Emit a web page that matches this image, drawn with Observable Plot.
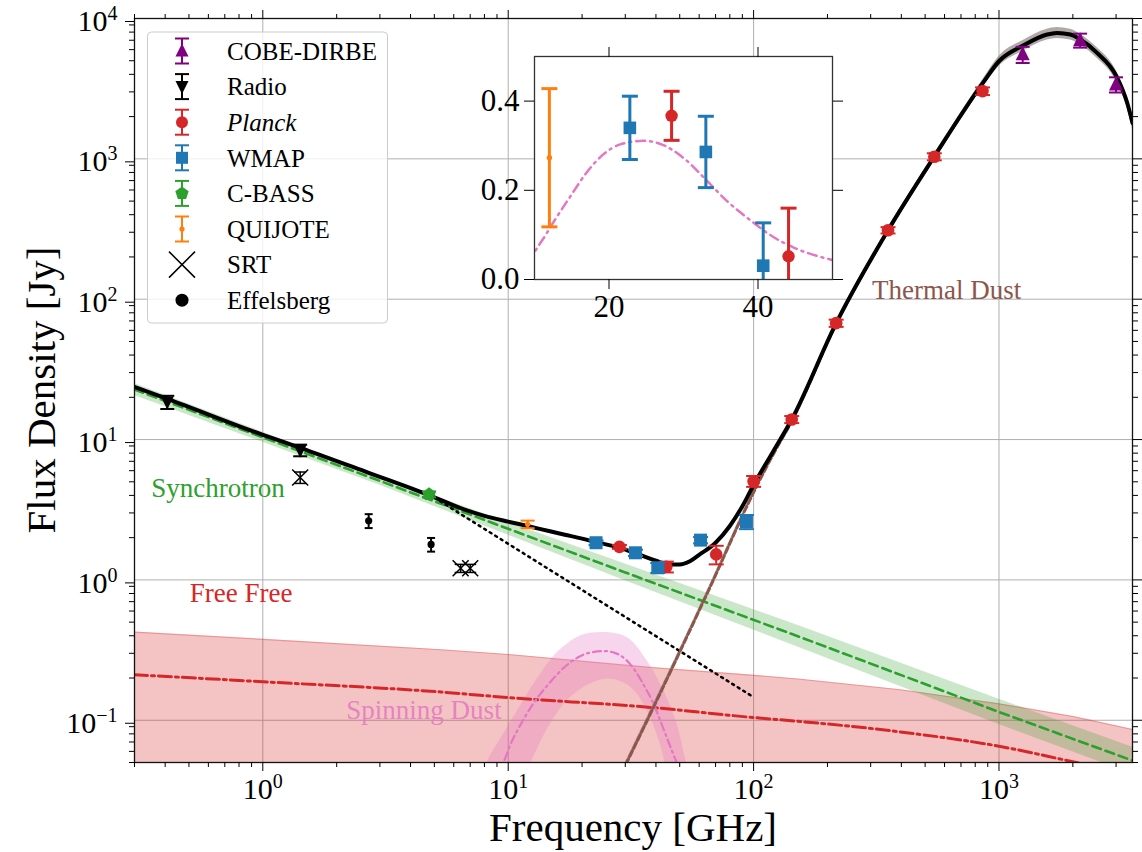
<!DOCTYPE html>
<html><head><meta charset="utf-8">
<script src="https://cdn.jsdelivr.net/npm/d3@7"></script>
<script src="https://cdn.jsdelivr.net/npm/@observablehq/plot@0.6"></script>
<style>
html,body{margin:0;padding:0;background:#fff;overflow:hidden}
#wrap{position:relative;width:1142px;height:852px;font-family:"Liberation Serif","Times New Roman",serif}
#wrap svg{position:absolute;font-family:"Liberation Serif","Times New Roman",serif !important}
#wrap svg text{font-family:"Liberation Serif","Times New Roman",serif !important}
</style></head><body><div id="wrap"></div>
<script>
// ---------------- data ----------------
// measured flux densities [GHz], [Jy]
const cobeFreq = [1249, 2141, 2998];
const cobeFlux = [5550, 7000, 3390];
const cobeErr = [730, 800, 420];
const radioFreq = [0.408, 1.42];
const radioFlux = [18.5, 8.4];
const radioErr = [2.0, 0.8];
const planckFreq = [28.4, 44.1, 70.4, 100, 143, 217, 353, 545, 857];
const planckFlux = [1.72, 1.24, 1.52, 5.05, 13.9, 67.5, 310, 1036, 3038];
const planckErr = [0.055, 0.11, 0.23, 0.45, 0.8, 4, 16, 60, 190];
const wmapFreq = [22.8, 33.0, 40.7, 60.8, 93.5];
const wmapFlux = [1.84, 1.56, 1.22, 1.92, 2.6];
const wmapErr = [0.07, 0.08, 0.1, 0.1, 0.3];
const cbassFreq = [4.76];
const cbassFlux = [4.07];
const cbassErr = [0.2];
const quijoteFreq = [12.0];
const quijoteFlux = [2.49];
const quijoteErr = [0.155];
const srtFreq = [1.42, 6.4, 7.0];
const srtFlux = [5.37, 1.21, 1.21];
const srtErr = [0.5, 0.08, 0.08];
const effFreq = [2.7, 4.85];
const effFlux = [2.64, 1.79];
const effErr = [0.3, 0.2];

// model curves
const totalFreq = [0.3, 0.408, 1, 1.43, 2.7, 4.76, 6.6, 8, 10, 12, 14.8, 17, 20, 23, 28.4, 33, 40, 45, 50, 55, 60, 70, 80, 90, 100, 120, 143, 217, 353, 545, 857, 1004, 1254, 1571, 1725, 1954, 2146, 2510, 3010, 3330, 3500];
const totalFlux = [23.7, 19.5, 10.8, 8.7, 5.8, 4.02, 3.18, 2.86, 2.6, 2.42, 2.22, 2.1, 1.97, 1.85, 1.70, 1.55, 1.37, 1.29, 1.29, 1.36, 1.51, 1.84, 2.42, 3.35, 4.75, 8.2, 13.9, 67.5, 310, 1040, 3450, 5000, 6410, 7690, 7890, 7690, 7080, 5690, 3880, 2510, 1800];

const synchFreq = [0.3, 3, 30, 155, 1000, 3500];
const synchFlux = [22.7, 5.07, 1.13, 0.391, 0.1146, 0.0516];
const synchLo = [20.6, 4.73, 0.985, 0.327, 0.0934, 0.0414];
const synchHi = [25.1, 5.43, 1.30, 0.468, 0.141, 0.0642];

const ffFreq = [0.3, 1, 5.3, 10, 39, 100, 155, 396, 1000, 2018, 3500];
const ffFlux = [0.211, 0.188, 0.159, 0.145, 0.123, 0.1045, 0.098, 0.0826, 0.0653, 0.0505, 0.0413];
const ffHi = [0.425, 0.377, 0.318, 0.294, 0.237, 0.209, 0.196, 0.165, 0.131, 0.106, 0.086];
const ffLo = [0.02, 0.02, 0.02, 0.02, 0.02, 0.02, 0.02, 0.02, 0.02, 0.02, 0.02];

const ameFreq = [9.0, 9.7, 10.1, 11.5, 12.6, 14.8, 17.0, 19.2, 21.5, 24.6, 27.2, 30.4, 33.0, 35.7, 38.8, 41.9, 45.0, 47.9, 49.7, 53];
const ameFlux = [0.040, 0.053, 0.064, 0.100, 0.130, 0.186, 0.240, 0.280, 0.303, 0.311, 0.302, 0.267, 0.224, 0.178, 0.135, 0.097, 0.070, 0.053, 0.045, 0.033];
const ameHiFreq = [7.6, 8.3, 9.9, 11.5, 13.5, 15.8, 19.6, 24.1, 30.5, 36.7, 42.9, 48.5, 52.6, 55];
const ameHi = [0.038, 0.0534, 0.0896, 0.139, 0.215, 0.306, 0.402, 0.425, 0.391, 0.267, 0.163, 0.095, 0.0534, 0.04];
const ameLoFreq = [11.6, 12.5, 14.8, 18.5, 25.3, 31.4, 36.7, 41.1, 43, 44];
const ameLo = [0.04, 0.053, 0.095, 0.155, 0.198, 0.173, 0.118, 0.072, 0.053, 0.04];

const dustFreq = [25, 30.5, 65.5, 100, 120, 143, 217, 353, 545, 857, 1004, 1254, 1571, 1725, 1954, 2146, 2510, 3010, 3330, 3500];
const dustFlux = [0.025, 0.0505, 0.84, 4.2, 7.8, 13.5, 66.5, 307, 1035, 3420, 4980, 6390, 7680, 7880, 7680, 7070, 5680, 3870, 2500, 1790];
const dustLo = [0.024, 0.048, 0.80, 4.0, 7.45, 12.9, 63.5, 293, 985, 3200, 4580, 5850, 7020, 7200, 7020, 6470, 5200, 3540, 2290, 1640];
const dustHi = [0.026, 0.053, 0.88, 4.4, 8.15, 14.1, 69.5, 321, 1085, 3650, 5410, 6980, 8400, 8620, 8400, 7730, 6210, 4230, 2730, 1950];

const dotFreq = [4.76, 100];
const dotFlux = [4.07, 0.146];

// inset: AME residuals
const inQuijoteFreq = [12.0], inQuijoteVal = [0.273], inQuijoteErr = [0.155];
const inWmapFreq = [22.8, 33.0, 40.7], inWmapVal = [0.34, 0.286, 0.031], inWmapErr = [0.071, 0.08, 0.096];
const inPlanckFreq = [28.4, 44.1], inPlanckVal = [0.367, 0.052], inPlanckErr = [0.055, 0.108];

// ticks & labels
const xMajor = [1, 10, 100, 1000];
const yMajor = [0.1, 1, 10, 100, 1000, 10000];
const insetXTicks = [20, 40];
const insetYTicks = [0, 0.2, 0.4];
const legendLabels = ["COBE-DIRBE", "Radio", "Planck", "WMAP", "C-BASS", "QUIJOTE", "SRT", "Effelsberg"];
const annText = ["Synchrotron", "Free Free", "Thermal Dust", "Spinning Dust"];
const annFreq = [0.351, 0.504, 304, 2.19];
const annFlux = [4.52, 0.80, 116, 0.118];

// ---------------- styling ----------------
const C = {blue:"#1f77b4", orange:"#ff7f0e", green:"#2ca02c", red:"#d62728", purple:"#800080", brown:"#8c564b", pink:"#e377c2", black:"#000"};
const FONT = '"Liberation Serif","Times New Roman",serif';
const W = 1142, H = 852, mL = 134, mR = 10, mT = 18, mB = 90;

const rr = s => Math.sqrt(s / Math.PI);
const SYM = {
  cap: {draw(c, s){const r = rr(s); c.moveTo(-r, 0); c.lineTo(r, 0);}},
  triUp: {draw(c, s){const r = rr(s); c.moveTo(0, -r*1.15); c.lineTo(r, r*0.85); c.lineTo(-r, r*0.85); c.closePath();}},
  triDown: {draw(c, s){const r = rr(s); c.moveTo(0, r*1.15); c.lineTo(r, -r*0.85); c.lineTo(-r, -r*0.85); c.closePath();}},
  square: {draw(c, s){const r = rr(s); c.rect(-r, -r, 2*r, 2*r);}},
  pent: {draw(c, s){const r = rr(s); for (let k = 0; k < 5; k++){const a = -Math.PI/2 + k*2*Math.PI/5; const px = r*Math.cos(a), py = r*Math.sin(a); if (k) c.lineTo(px, py); else c.moveTo(px, py);} c.closePath();}},
  x: {draw(c, s){const r = rr(s); c.moveTo(-r, -r); c.lineTo(r, r); c.moveTo(-r, r); c.lineTo(r, -r);}},
  circle: {draw(c, s){const r = rr(s); c.moveTo(r, 0); c.arc(0, 0, r, 0, 2*Math.PI);}}
};

const rows = (f, v, e) => f.map((x, i) => ({f: x, v: v[i], e: e ? e[i] : 0}));
const band = (f, lo, hi) => f.map((x, i) => ({f: x, lo: lo[i], hi: hi[i]}));

function errBars(data, color, capR, sw){
  return [
    Plot.ruleX(data, {x: "f", y1: d => d.v - d.e, y2: d => d.v + d.e, stroke: color, strokeWidth: sw, clip: true}),
    Plot.dot(data, {x: "f", y: d => d.v + d.e, symbol: SYM.cap, r: capR, stroke: color, fill: "none", strokeWidth: sw, clip: true}),
    Plot.dot(data, {x: "f", y: d => d.v - d.e, symbol: SYM.cap, r: capR, stroke: color, fill: "none", strokeWidth: sw, clip: true})
  ];
}

function minorTicks(lo, hi){
  const out = [];
  for (let k = -3; k <= 4; k++) for (let m = 2; m <= 9; m++){
    const v = +(m * Math.pow(10, k)).toPrecision(6);
    if (v >= lo && v <= hi) out.push(v);
  }
  return out;
}
const fmtPow = d => {const e = Math.round(Math.log10(d)); return "10^" + (e < 0 ? "\u2212" + (-e) : String(e));};
const blank = () => "";

const ameBandPoly = [
  ...ameHiFreq.map((f, i) => ({f, v: ameHi[i]})),
  ...ameLoFreq.map((f, i) => ({f, v: ameLo[i]})).reverse()
];

const TXT = {fontFamily: FONT};

const main = Plot.plot({
  width: W, height: H, marginLeft: mL, marginRight: mR, marginTop: mT, marginBottom: mB,
  x: {type: "log", domain: [0.3, 3500]},
  y: {type: "log", domain: [0.05, 10000]},
  style: {fontSize: "30px", color: "#000", background: "white", overflow: "visible"},
  marks: [
    Plot.gridX({ticks: xMajor, stroke: "#b0b0b0", strokeOpacity: 1, strokeWidth: 1}),
    Plot.gridY({ticks: yMajor, stroke: "#b0b0b0", strokeOpacity: 1, strokeWidth: 1}),
    // bands
    Plot.areaY(band(ffFreq, ffLo, ffHi), {x: "f", y1: "lo", y2: "hi", fill: C.red, fillOpacity: 0.28, clip: true}),
    Plot.line(rows(ffFreq, ffHi), {x: "f", y: "v", stroke: C.red, strokeOpacity: 0.3, strokeWidth: 1.2, clip: true}),
    Plot.areaY(band(synchFreq, synchLo, synchHi), {x: "f", y1: "lo", y2: "hi", fill: C.green, fillOpacity: 0.25, clip: true}),
    Plot.line(ameBandPoly, {x: "f", y: "v", fill: C.pink, fillOpacity: 0.3, stroke: "none", curve: "catmull-rom", clip: true}),
    Plot.areaY(band(dustFreq, dustLo, dustHi), {x: "f", y1: "lo", y2: "hi", fill: "#6f6260", fillOpacity: 0.55, curve: "monotone-x", clip: true}),
    // annotations
    Plot.text([0], {x: () => annFreq[0], y: () => annFlux[0], text: () => annText[0], fill: C.green, fontSize: 27, textAnchor: "start", lineAnchor: "middle", ...TXT}),
    Plot.text([0], {x: () => annFreq[1], y: () => annFlux[1], text: () => annText[1], fill: C.red, fontSize: 27, textAnchor: "start", lineAnchor: "middle", ...TXT}),
    Plot.text([0], {x: () => annFreq[2], y: () => annFlux[2], text: () => annText[2], fill: C.brown, fontSize: 27, textAnchor: "start", lineAnchor: "middle", ...TXT}),
    Plot.text([0], {x: () => annFreq[3], y: () => annFlux[3], text: () => annText[3], fill: C.pink, fillOpacity: 0.85, fontSize: 27, textAnchor: "start", lineAnchor: "middle", ...TXT}),
    // component lines
    Plot.line(rows(ffFreq, ffFlux), {x: "f", y: "v", stroke: C.red, strokeWidth: 3, strokeDasharray: "13,4,3,4", curve: "monotone-x", clip: true}),
    Plot.line(rows(synchFreq, synchFlux), {x: "f", y: "v", stroke: C.green, strokeWidth: 2.6, strokeDasharray: "9,5", clip: true}),
    Plot.line(rows(ameFreq, ameFlux), {x: "f", y: "v", stroke: C.pink, strokeWidth: 2.2, strokeDasharray: "8,4,2,4", curve: "monotone-x", clip: true}),
    Plot.line(rows(dotFreq, dotFlux), {x: "f", y: "v", stroke: C.black, strokeWidth: 2.5, strokeDasharray: "2,4.5", clip: true}),
    Plot.line(rows(dustFreq, dustFlux), {x: "f", y: "v", stroke: C.brown, strokeWidth: 3, strokeDasharray: "6,3", curve: "monotone-x", clip: true}),
    // total model
    Plot.line(rows(totalFreq, totalFlux), {x: "f", y: "v", stroke: C.black, strokeWidth: 4, curve: "monotone-x", clip: true}),
    // data
    ...errBars(rows(cobeFreq, cobeFlux, cobeErr), C.purple, 7, 2),
    Plot.dot(rows(cobeFreq, cobeFlux), {x: "f", y: "v", symbol: SYM.triUp, r: 7, fill: C.purple, stroke: "none"}),
    ...errBars(rows(radioFreq, radioFlux, radioErr), C.black, 7, 2),
    Plot.dot(rows(radioFreq, radioFlux), {x: "f", y: "v", symbol: SYM.triDown, r: 6.5, fill: C.black, stroke: "none"}),
    ...errBars(rows(planckFreq, planckFlux, planckErr), C.red, 7.5, 2),
    Plot.dot(rows(planckFreq, planckFlux), {x: "f", y: "v", symbol: SYM.circle, r: 6.3, fill: C.red, stroke: "none"}),
    ...errBars(rows(wmapFreq, wmapFlux, wmapErr), C.blue, 7.5, 2),
    Plot.dot(rows(wmapFreq, wmapFlux), {x: "f", y: "v", symbol: SYM.square, r: 6.5, fill: C.blue, stroke: "none"}),
    ...errBars(rows(cbassFreq, cbassFlux, cbassErr), C.green, 7, 2),
    Plot.dot(rows(cbassFreq, cbassFlux), {x: "f", y: "v", symbol: SYM.pent, r: 7, fill: C.green, stroke: "none"}),
    ...errBars(rows(quijoteFreq, quijoteFlux, quijoteErr), C.orange, 7, 2),
    Plot.dot(rows(quijoteFreq, quijoteFlux), {x: "f", y: "v", symbol: SYM.circle, r: 2.6, fill: C.orange, stroke: "none"}),
    ...errBars(rows(srtFreq, srtFlux, srtErr), C.black, 6, 1.5),
    Plot.dot(rows(srtFreq, srtFlux), {x: "f", y: "v", symbol: SYM.x, r: 8, fill: "none", stroke: C.black, strokeWidth: 1.5}),
    ...errBars(rows(effFreq, effFlux, effErr), C.black, 4, 2),
    Plot.dot(rows(effFreq, effFlux), {x: "f", y: "v", symbol: SYM.circle, r: 3.6, fill: C.black, stroke: "none"}),
    // frame & axes
    Plot.frame({stroke: "#111", strokeWidth: 1.3}),
    Plot.axisX({ticks: xMajor, tickSize: 9, tickPadding: 6, tickFormat: fmtPow, label: null, fontSize: 30, ...TXT}),
    Plot.axisX({ticks: minorTicks(0.3, 3500), tickSize: 5, tickFormat: blank, label: null}),
    Plot.axisX({anchor: "top", ticks: xMajor, tickSize: 9, tickFormat: blank, label: null}),
    Plot.axisX({anchor: "top", ticks: minorTicks(0.3, 3500), tickSize: 5, tickFormat: blank, label: null}),
    Plot.axisY({ticks: yMajor, tickSize: 9, tickPadding: 8, tickFormat: fmtPow, label: null, fontSize: 30, dy: 3, ...TXT}),
    Plot.axisY({ticks: minorTicks(0.05, 10000), tickSize: 5, tickFormat: blank, label: null}),
    Plot.axisY({anchor: "right", ticks: yMajor, tickSize: 9, tickFormat: blank, label: null}),
    Plot.axisY({anchor: "right", ticks: minorTicks(0.05, 10000), tickSize: 5, tickFormat: blank, label: null})
  ]
});
main.style.left = "0px"; main.style.top = "0px";

const NS = "http://www.w3.org/2000/svg";
function superscriptify(svg){
  svg.querySelectorAll("text").forEach(t => {
    const s = t.textContent;
    if (!s.includes("^")) return;
    const [b, e] = s.split("^");
    t.textContent = "";
    const t1 = document.createElementNS(NS, "tspan"); t1.textContent = b;
    const t2 = document.createElementNS(NS, "tspan"); t2.textContent = e;
    t2.setAttribute("dy", "-11"); t2.setAttribute("font-size", "20px");
    t.append(t1, t2);
  });
}
superscriptify(main);

const msel = d3.select(main);
msel.append("text").attr("x", mL + (W - mL - mR) / 2).attr("y", 841)
  .attr("text-anchor", "middle").attr("font-size", 41).attr("font-family", FONT).attr("fill", "#000")
  .text("Frequency [GHz]");
msel.append("text").attr("transform", `translate(55,${mT + (H - mT - mB) / 2}) rotate(-90)`)
  .attr("text-anchor", "middle").attr("font-size", 41).attr("font-family", FONT).attr("fill", "#000")
  .text("Flux Density [Jy]");

const wrap = document.getElementById("wrap");
wrap.appendChild(main);

// ---------------- legend ----------------
const legendStyle = {
  "COBE-DIRBE": {color: C.purple, sym: SYM.triUp, r: 6.5, err: true},
  "Radio": {color: C.black, sym: SYM.triDown, r: 6.5, err: true},
  "Planck": {color: C.red, sym: SYM.circle, r: 6, err: true, italic: true},
  "WMAP": {color: C.blue, sym: SYM.square, r: 6, err: true},
  "C-BASS": {color: C.green, sym: SYM.pent, r: 7, err: true},
  "QUIJOTE": {color: C.orange, sym: SYM.circle, r: 2.6, err: true},
  "SRT": {color: C.black, sym: SYM.x, r: 13, err: false, stroke: true},
  "Effelsberg": {color: C.black, sym: SYM.circle, r: 6.5, err: false}
};
const lg = d3.select(wrap).append("svg").attr("width", W).attr("height", H)
  .style("left", "0px").style("top", "0px").style("pointer-events", "none");
lg.append("rect").attr("x", 147.5).attr("y", 32).attr("width", 240).attr("height", 291).attr("rx", 4)
  .attr("fill", "white").attr("fill-opacity", 0.8).attr("stroke", "#cccccc").attr("stroke-width", 1);
legendLabels.forEach((lab, i) => {
  const st = legendStyle[lab];
  const cy = 51 + i * 35.6, cx = 182;
  const g = lg.append("g").attr("transform", `translate(${cx},${cy})`);
  if (st.err){
    g.append("line").attr("x1", 0).attr("x2", 0).attr("y1", -12.5).attr("y2", 12.5).attr("stroke", st.color).attr("stroke-width", 2);
    g.append("line").attr("x1", -7).attr("x2", 7).attr("y1", -12.5).attr("y2", -12.5).attr("stroke", st.color).attr("stroke-width", 2);
    g.append("line").attr("x1", -7).attr("x2", 7).attr("y1", 12.5).attr("y2", 12.5).attr("stroke", st.color).attr("stroke-width", 2);
  }
  const p = d3.symbol().type(st.sym).size(Math.PI * st.r * st.r)();
  g.append("path").attr("d", p)
    .attr("fill", st.stroke ? "none" : st.color)
    .attr("stroke", st.stroke ? st.color : "none").attr("stroke-width", 1.5);
  lg.append("text").attr("x", 227).attr("y", cy).attr("dy", "0.35em")
    .attr("font-family", FONT).attr("font-size", 25).attr("fill", "#000")
    .attr("font-style", st.italic ? "italic" : "normal").text(lab);
});

// ---------------- inset ----------------
const inset = Plot.plot({
  width: 400, height: 300, marginLeft: 64, marginRight: 38, marginTop: 26, marginBottom: 51,
  x: {domain: [10, 50]},
  y: {domain: [0, 0.5]},
  style: {fontSize: "30px", color: "#000", background: "transparent", overflow: "visible"},
  marks: [
    Plot.frame({fill: "white", stroke: "none"}),
    Plot.line(rows(ameFreq, ameFlux), {x: "f", y: "v", stroke: C.pink, strokeWidth: 2.5, strokeDasharray: "9,5,2,5", curve: "monotone-x", clip: true}),
    ...errBars(rows(inQuijoteFreq, inQuijoteVal, inQuijoteErr), C.orange, 8, 3),
    Plot.dot(rows(inQuijoteFreq, inQuijoteVal), {x: "f", y: "v", symbol: SYM.circle, r: 2.7, fill: C.orange, stroke: "none"}),
    ...errBars(rows(inWmapFreq, inWmapVal, inWmapErr), C.blue, 8, 3),
    Plot.dot(rows(inWmapFreq, inWmapVal), {x: "f", y: "v", symbol: SYM.square, r: 6.3, fill: C.blue, stroke: "none", clip: true}),
    ...errBars(rows(inPlanckFreq, inPlanckVal, inPlanckErr), C.red, 8, 3),
    Plot.dot(rows(inPlanckFreq, inPlanckVal), {x: "f", y: "v", symbol: SYM.circle, r: 6.2, fill: C.red, stroke: "none", clip: true}),
    Plot.frame({stroke: "#333", strokeWidth: 1.3}),
    Plot.axisX({ticks: insetXTicks, tickSize: 10, tickPadding: 5, tickFormat: d => String(d), label: null, fontSize: 31, ...TXT}),
    Plot.axisX({anchor: "top", ticks: insetXTicks, tickSize: 10, tickFormat: blank, label: null}),
    Plot.axisY({ticks: insetYTicks, tickSize: 10, tickPadding: 5, tickFormat: d3.format(".1f"), label: null, fontSize: 31, ...TXT}),
    Plot.axisY({anchor: "right", ticks: insetYTicks, tickSize: 10, tickFormat: blank, label: null})
  ]
});
inset.style.left = "470px"; inset.style.top = "30px";
wrap.appendChild(inset);
</script></body></html>
